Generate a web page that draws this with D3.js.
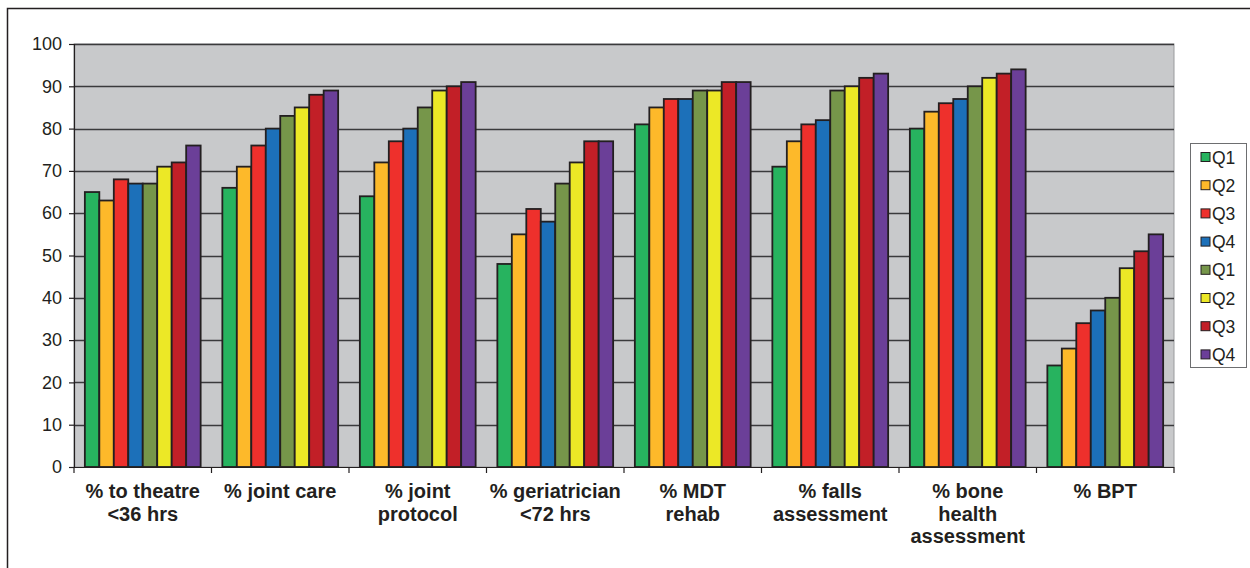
<!DOCTYPE html>
<html>
<head>
<meta charset="utf-8">
<script src="https://cdn.jsdelivr.net/npm/d3@7"></script>
<style>
  html, body { margin: 0; padding: 0; background: #fff; }
  svg { display: block; }
  text { font-family: "Liberation Sans", Arial, sans-serif; fill: #231f20; }
</style>
</head>
<body>
<svg id="chart" width="1250" height="568"></svg>
<script>
// Indicator categories (multi-line labels split on "|")
const categories = [
  "% to theatre|<36 hrs",
  "% joint care",
  "% joint|protocol",
  "% geriatrician|<72 hrs",
  "% MDT|rehab",
  "% falls|assessment",
  "% bone|health|assessment",
  "% BPT"
];

// Eight consecutive quarters
const seriesNames = ["Q1", "Q2", "Q3", "Q4", "Q1", "Q2", "Q3", "Q4"];
const seriesColors = ["#27b35f", "#fdb92a", "#ee302c", "#1c70b9", "#76964a", "#ece826", "#c21f27", "#6b3f98"];

// Percentages per series, one value per category
const s1 = [65, 66, 64, 48, 81, 71, 80, 24];
const s2 = [63, 71, 72, 55, 85, 77, 84, 28];
const s3 = [68, 76, 77, 61, 87, 81, 86, 34];
const s4 = [67, 80, 80, 58, 87, 82, 87, 37];
const s5 = [67, 83, 85, 67, 89, 89, 90, 40];
const s6 = [71, 85, 89, 72, 89, 90, 92, 47];
const s7 = [72, 88, 90, 77, 91, 92, 93, 51];
const s8 = [76, 89, 91, 77, 91, 93, 94, 55];
const seriesValues = [s1, s2, s3, s4, s5, s6, s7, s8];

const yTicks = [0, 10, 20, 30, 40, 50, 60, 70, 80, 90, 100];

const svg = d3.select("#chart");
const plot = { left: 74, right: 1174, top: 44, bottom: 467 };

// Outer frame
svg.append("rect")
  .attr("x", 7.5).attr("y", 8.5)
  .attr("width", 1260).attr("height", 580)
  .attr("fill", "none").attr("stroke", "#231f20").attr("stroke-width", 1.5);

const x0 = d3.scaleBand()
  .domain(d3.range(categories.length))
  .range([plot.left, plot.right])
  .paddingInner(0).paddingOuter(0);

const bw = x0.bandwidth();
// 8 bars plus a gap of 1.5 bar widths per group
const barW = bw / (seriesNames.length + 1.5);
const x1 = d3.scaleBand()
  .domain(d3.range(seriesNames.length))
  .range([barW * 0.75, bw - barW * 0.75])
  .padding(0);

const y = d3.scaleLinear().domain([0, 100]).range([plot.bottom, plot.top]);

// Plot background
svg.append("rect")
  .attr("x", plot.left).attr("y", plot.top)
  .attr("width", plot.right - plot.left).attr("height", plot.bottom - plot.top)
  .attr("fill", "#c8c9cb").attr("stroke", "#9a9b9d").attr("stroke-width", 1);

// Horizontal gridlines
svg.append("g").selectAll("line")
  .data(yTicks.filter(d => d > 0))
  .join("line")
  .attr("x1", plot.left).attr("x2", plot.right)
  .attr("y1", d => Math.round(y(d)) + 0.5).attr("y2", d => Math.round(y(d)) + 0.5)
  .attr("stroke", "#3a3a3c").attr("stroke-width", 1.4);

// Bars
const groups = svg.append("g").selectAll("g")
  .data(categories.map((c, i) => i))
  .join("g")
  .attr("transform", i => `translate(${x0(i)},0)`);

groups.selectAll("rect")
  .data(i => seriesValues.map((vals, s) => ({ s, v: vals[i] })))
  .join("rect")
  .attr("x", d => x1(d.s))
  .attr("y", d => y(d.v))
  .attr("width", x1.bandwidth())
  .attr("height", d => y(0) - y(d.v))
  .attr("fill", d => seriesColors[d.s])
  .attr("stroke", "#231f20").attr("stroke-width", 1.8);

// Y axis
const yAxis = svg.append("g")
  .attr("transform", `translate(${plot.left},0)`)
  .call(d3.axisLeft(y).tickValues(yTicks).tickSize(5).tickPadding(7));
yAxis.select(".domain").attr("stroke", "#231f20").attr("stroke-width", 1.2);
yAxis.selectAll(".tick line").attr("stroke", "#231f20").attr("stroke-width", 1.2);
yAxis.selectAll(".tick text")
  .attr("font-size", 18).attr("fill", "#231f20")
  .style("font-family", "'Liberation Sans', Arial, sans-serif");

// X axis line and boundary ticks
const xAxisG = svg.append("g");
xAxisG.append("line")
  .attr("x1", plot.left).attr("x2", plot.right)
  .attr("y1", plot.bottom + 0.5).attr("y2", plot.bottom + 0.5)
  .attr("stroke", "#231f20").attr("stroke-width", 1.2);
xAxisG.selectAll("line.tk")
  .data(d3.range(categories.length + 1))
  .join("line").attr("class", "tk")
  .attr("x1", i => i < categories.length ? x0(i) : plot.right)
  .attr("x2", i => i < categories.length ? x0(i) : plot.right)
  .attr("y1", plot.bottom).attr("y2", plot.bottom + 6)
  .attr("stroke", "#231f20").attr("stroke-width", 1.2);

// Category labels
const lbl = svg.append("g").selectAll("text")
  .data(categories)
  .join("text")
  .attr("x", (d, i) => x0(i) + bw / 2)
  .attr("y", plot.bottom + 31)
  .attr("text-anchor", "middle")
  .attr("font-size", 20).attr("font-weight", "bold");
lbl.selectAll("tspan")
  .data(d => d.split("|"))
  .join("tspan")
  .attr("x", function () { return d3.select(this.parentNode).attr("x"); })
  .attr("dy", (d, i) => i === 0 ? 0 : 22.5)
  .text(d => d);

// Legend
const legend = svg.append("g");
legend.append("rect")
  .attr("x", 1190.5).attr("y", 143.5)
  .attr("width", 56).attr("height", 224)
  .attr("fill", "#fff").attr("stroke", "#6d6e70").attr("stroke-width", 1);
const items = legend.selectAll("g.item")
  .data(seriesNames.map((n, i) => ({ n, i })))
  .join("g").attr("class", "item")
  .attr("transform", d => `translate(1201,${157 + d.i * 28.2})`);
items.append("rect")
  .attr("x", 0).attr("y", -4.5).attr("width", 9).attr("height", 9)
  .attr("fill", d => seriesColors[d.i])
  .attr("stroke", "#231f20").attr("stroke-width", 1);
items.append("text")
  .attr("x", 11).attr("y", 6.5)
  .attr("font-size", 17.5)
  .text(d => d.n);
</script>
</body>
</html>
